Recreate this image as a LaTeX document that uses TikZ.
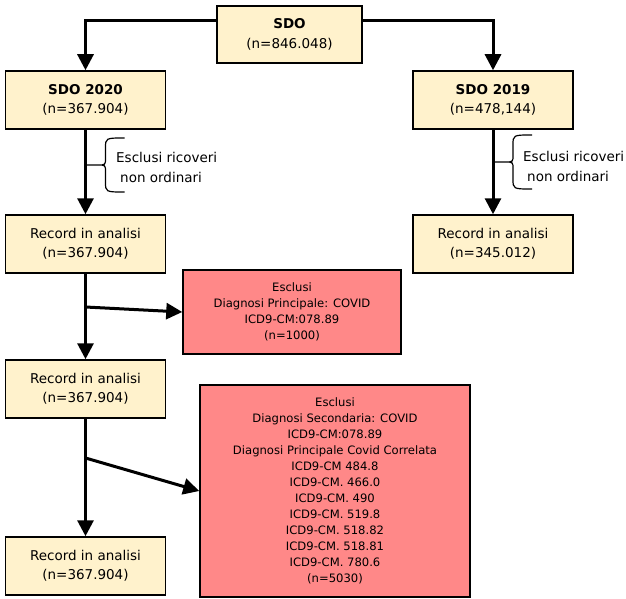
\documentclass[tikz,border=0pt]{standalone}
\usepackage{fontspec}
\setmainfont{DejaVu Sans}
\usetikzlibrary{arrows.meta}
\definecolor{beige}{RGB}{255,242,204}
\definecolor{rosa}{RGB}{255,136,136}

\begin{document}
\begin{tikzpicture}[x=1pt,y=-1pt,
        box/.style={draw, line width=1.5pt, fill=beige, align=center, inner sep=0pt,
            minimum width=160pt, minimum height=58pt, font=\fontsize{13.5}{19.5}\selectfont},
        escl/.style={draw, line width=1.5pt, fill=rosa, align=center, inner sep=0pt,
            font=\fontsize{11.6}{16}\selectfont},
        nota/.style={align=left, anchor=west, inner sep=0pt, font=\fontsize{13.5}{20}\selectfont},
        freccia/.style={line width=3pt, -{Triangle[width=16pt,length=16pt]}},
        graffa/.style={line width=1.2pt}]
                \useasboundingbox (0,0) rectangle (626,599);
                \node[box, minimum width=145pt, minimum height=57pt] (sdo) at (289.5,34.5) {\textbf{SDO}\\(n=846.048)};
                \node[box] (sdo20) at (85.5,100) {\textbf{SDO 2020}\\(n=367.904)};
                \node[box] (sdo19) at (493,100) {\textbf{SDO 2019}\\(n=478,144)};
                \node[box] (rec1) at (85.5,244) {Record in analisi\\(n=367.904)};
                \node[box] (rec19) at (493,244) {Record in analisi\\(n=345.012)};
                \node[box] (rec2) at (85.5,389) {Record in analisi\\(n=367.904)};
                \node[box] (rec3) at (85.5,566) {Record in analisi\\(n=367.904)};
                \node[escl, minimum width=218pt, minimum height=84pt] (escl1) at (292,312)
                    {Esclusi\\Diagnosi Principale: COVID\\ICD9-CM:078.89\\(n=1000)};
                \node[escl, minimum width=270pt, minimum height=212pt] (escl2) at (335,491)
                    {Esclusi\\Diagnosi Secondaria: COVID\\ICD9-CM:078.89\\Diagnosi Principale Covid Correlata\\
                     ICD9-CM 484.8\\ICD9-CM. 466.0\\ICD9-CM. 490\\ICD9-CM. 519.8\\ICD9-CM. 518.82\\
                     ICD9-CM. 518.81\\ICD9-CM. 780.6\\(n=5030)};
                \draw[freccia] ([yshift=13.5pt]sdo.west) -| (sdo20.north);
                \draw[freccia] ([yshift=13.5pt]sdo.east) -| (sdo19.north);
                \draw[freccia] (sdo20) -- (rec1);
                \draw[freccia] (sdo19) -- (rec19);
                \draw[freccia] (rec1) -- (rec2);
                \draw[freccia] (rec2) -- (rec3);
                \coordinate (b1) at (rec1.south |- 0,307);
                \coordinate (b2) at (rec2.south |- 0,458);
                \draw[freccia] (b1) -- (escl1.west);
                \draw[freccia] (b2) -- (escl2.west);
                \coordinate (g20) at (sdo20.south |- 0,165);
                \coordinate (g19) at (sdo19.south |- 0,162);
                \foreach \g in {g20,g19}
                    \draw[graffa, shift={(\g)}] (39,-27) .. controls (20,-27) .. (20,-17) -- (20,-7)
                        .. controls (20,0) .. (12,0) -- (0,0) (12,0) .. controls (20,0) .. (20,7)
                        -- (20,17) .. controls (20,27) .. (39,27);
                \node[nota] (n20) at (116,167) {Esclusi ricoveri\\\hspace*{4pt}non ordinari};
                \node[nota] (n19) at (523,166) {Esclusi ricoveri\\\hspace*{4pt}non ordinari};
            \end{tikzpicture}
\end{document}
